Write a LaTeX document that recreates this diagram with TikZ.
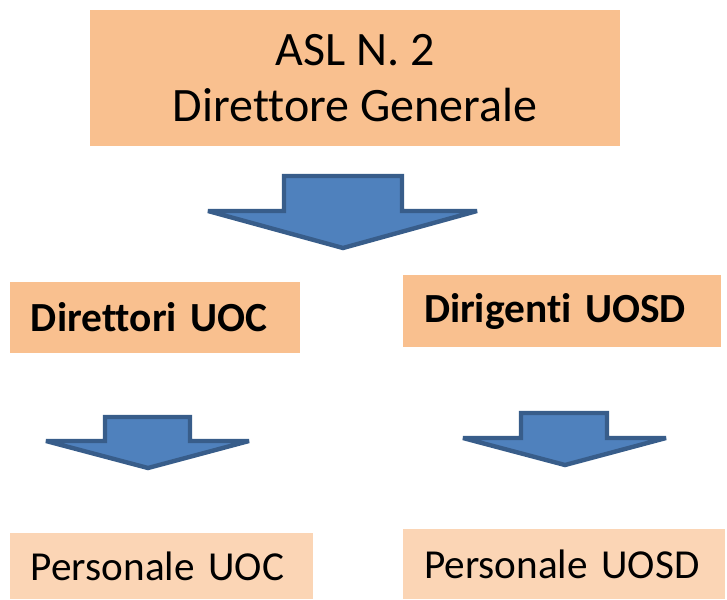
\documentclass[tikz,border=0pt]{standalone}
\usepackage{fontspec}
\setmainfont{Carlito}[Ligatures={NoCommon}]
\usetikzlibrary{positioning}

\definecolor{peach}{HTML}{F9C08F}
\definecolor{peachlight}{HTML}{FBD5B5}
\definecolor{arrowfill}{HTML}{4F81BD}
\definecolor{arrowline}{HTML}{385D8A}

\begin{document}
\begin{tikzpicture}[
      x=0.5pt, y=-0.5pt,
      head/.style={rectangle, fill=peach, inner sep=0pt, align=center,
        font=\fontsize{24}{28}\selectfont},
      chief/.style={rectangle, fill=peach, inner xsep=10.5pt, inner ysep=0pt, align=left,
        font=\fontsize{20.7}{24}\selectfont\bfseries},
      staff/.style={rectangle, fill=peachlight, inner xsep=10.5pt, inner ysep=0pt, align=left,
        font=\fontsize{20.6}{24}\selectfont},
      blockarrow/.style={fill=arrowfill, draw=arrowline, line width=2.2pt, miter limit=1.5}
    ]
    \useasboundingbox (0,0) rectangle (727,599);

    % boxes
    \node[head, minimum width=265pt, minimum height=68pt] (dg) at (355,78) {ASL N. 2\\Direttore Generale};
    \node[chief, text width=124pt, minimum height=35.5pt] (uoc) at (155,317.5) {Direttori UOC};
    \node[chief, text width=138pt, minimum height=36pt] (uosd) at (562,311) {Dirigenti UOSD};
    \node[staff, text width=130.5pt, minimum height=33pt] (puoc) at (161.5,566) {Personale UOC};
    \node[staff, text width=140pt, minimum height=35pt] (puosd) at (564,564) {Personale UOSD};

    % block arrows
    \draw[blockarrow] (284,176) -- (402,176) -- (402,211) -- (477,211) -- (343,248)
      -- (208,211) -- (284,211) -- cycle;
    \draw[blockarrow] (105,417) -- (190,417) -- (190,441) -- (249,441) -- (148,468)
      -- (46,441) -- (105,441) -- cycle;
    \draw[blockarrow] (521,413) -- (607,413) -- (607,438) -- (666,438) -- (565,465)
      -- (463,438) -- (521,438) -- cycle;
  \end{tikzpicture}
\end{document}
